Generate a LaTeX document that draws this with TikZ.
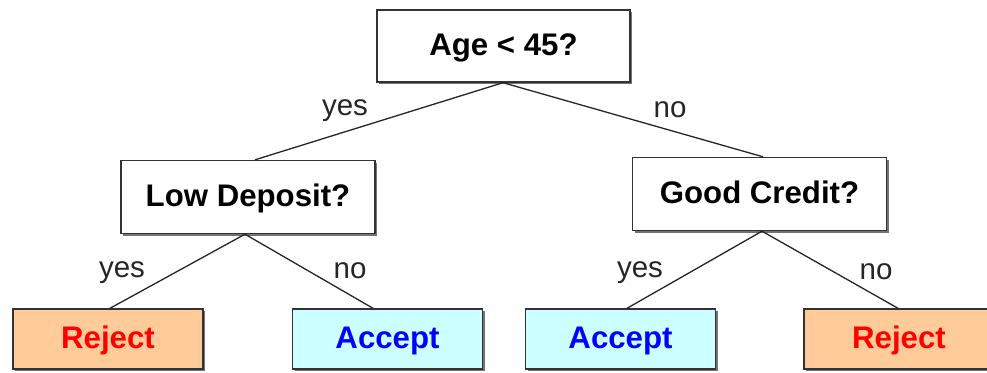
\documentclass[tikz,border=0pt]{standalone}
\usepackage{fontspec}
\setmainfont{Liberation Sans}
\usetikzlibrary{shadows}
\definecolor{rejectfill}{HTML}{FFCC99}
\definecolor{acceptfill}{HTML}{CCFFFF}
\definecolor{boxline}{HTML}{333333}
\begin{document}
\begin{tikzpicture}[x=1pt,y=-1pt,
  every node/.style={font=\fontsize{29.5}{34}\selectfont},
  box/.style={draw=boxline, line width=1.4pt, fill=white, inner sep=0pt,
    text height=22.5pt, text depth=4.5pt, font=\fontsize{31.2}{36}\selectfont\bfseries,
    drop shadow={shadow xshift=2pt, shadow yshift=-2pt, fill=black!55, opacity=1}},
  question/.style={box, minimum width=254pt, minimum height=73pt},
  leaf/.style={box, minimum width=190pt, minimum height=60pt},
  reject/.style={leaf, fill=rejectfill, text=red},
  accept/.style={leaf, fill=acceptfill, text=blue},
  branch/.style={draw=black!85, line width=1.3pt},
  answer/.style={anchor=base, inner sep=0pt, text=black!85}
]
\useasboundingbox (0,0) rectangle (987,372);
\fill[white] (0,0) rectangle (987,372);

% where each branch meets its boxes
\coordinate (rootS) at (503,82);
\coordinate (lowN)  at (255,160);
\coordinate (goodN) at (763,157);
\coordinate (lowS)  at (245,234);
\coordinate (goodS) at (762,231);
\coordinate (rej1N) at (110,309);
\coordinate (acc1N) at (373,309);
\coordinate (acc2N) at (627,309);
\coordinate (rej2N) at (898,309);

% decision nodes
\node[question, minimum width=253pt, minimum height=72pt] (root) at (503.5,46) {Age < 45?};
\node[question] (low)  at (248,197) {Low Deposit?};
\node[question] (good) at (759.5,194) {Good Credit?};

% outcomes
\node[reject] (rej1) at (108,339) {Reject};
\node[accept] (acc1) at (387.5,339) {Accept};
\node[accept] (acc2) at (620.5,339) {Accept};
\node[reject] (rej2) at (899,339) {Reject};

% branches
\draw[branch] (root.south -| rootS) -- (low.north -| lowN);
\draw[branch] (root.south -| rootS) -- (good.north -| goodN);
\draw[branch] (low.south -| lowS) -- (rej1.north -| rej1N);
\draw[branch] (low.south -| lowS) -- (acc1.north -| acc1N);
\draw[branch] (good.south -| goodS) -- (acc2.north -| acc2N);
\draw[branch] (good.south -| goodS) -- (rej2.north -| rej2N);

% branch labels
\node[answer] (l1) at (345,115) {yes};
\node[answer] (l2) at (670,117) {no};
\node[answer] (l3) at (122,277) {yes};
\node[answer] (l4) at (350,278) {no};
\node[answer] (l5) at (640,277) {yes};
\node[answer] (l6) at (876,279) {no};
\end{tikzpicture}
\end{document}
